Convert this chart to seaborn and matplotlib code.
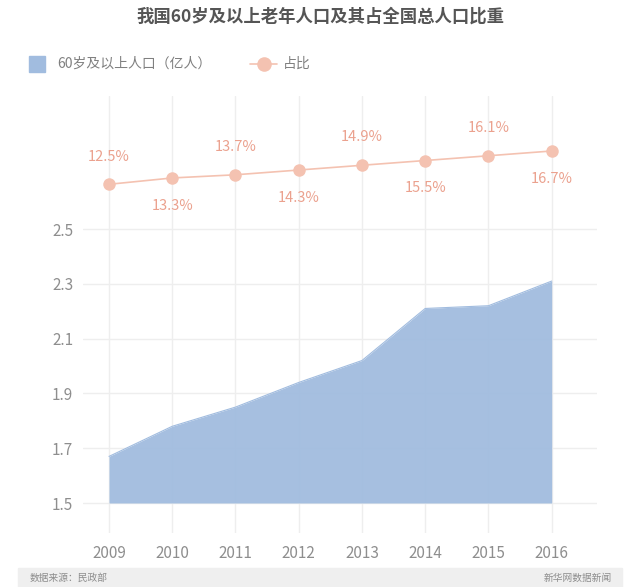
import numpy as np
import pandas as pd
import seaborn as sns
import matplotlib.pyplot as plt
from matplotlib.patches import Rectangle
from matplotlib.lines import Line2D

# data
years = [2009, 2010, 2011, 2012, 2013, 2014, 2015, 2016]
population = [1.67, 1.78, 1.85, 1.94, 2.02, 2.21, 2.22, 2.31]   # 亿人
share = [12.5, 13.3, 13.7, 14.3, 14.9, 15.5, 16.1, 16.7]          # %
y_ticks = [1.5, 1.7, 1.9, 2.1, 2.3, 2.5]

title = "我国60岁及以上老年人口及其占全国总人口比重"
legend_area = "60岁及以上人口（亿人）"
legend_line = "占比"
source = "数据来源：民政部"
brand = "新华网数据新闻"

blue = "#a1bcdf"
salmon = "#f4c2b1"
salmon_text = "#eba18e"
grey_text = "#8e8e8e"
grid_col = "#eeeeee"

df = pd.DataFrame({"year": years, "population": population, "share": share})

sns.set_theme(style="white")
plt.rcParams["font.family"] = ["Noto Sans CJK SC", "DejaVu Sans"]

W, H = 640, 587
fig = plt.figure(figsize=(W / 100, H / 100), dpi=100)

# axes box in pixels: x 83..597, y 96..533
left, right, top, bottom = 83, 597, 96, 533
ax = fig.add_axes([left / W, 1 - bottom / H, (right - left) / W, (bottom - top) / H])

# area
ax.fill_between(df["year"], 1.5, df["population"], color=blue, alpha=0.95,
                linewidth=0, zorder=2)
sns.lineplot(data=df, x="year", y="population", ax=ax, color=blue,
             linewidth=0.8, zorder=2)

px_year = (551.7 - 109) / 7
ax.set_xlim(2009 - (109 - left) / px_year, 2016 + (right - 551.7) / px_year)
px_unit = (503 - 229) / 1.0
ax.set_ylim(1.5 - (bottom - 503) / px_unit, 2.5 + (229 - top) / px_unit)

ax.set_xticks(years)
ax.set_yticks(y_ticks)
ax.set_yticklabels([f"{v:.1f}" for v in y_ticks])
ax.grid(True, color=grid_col, linewidth=1, zorder=0)
ax.set_axisbelow(True)
ax.tick_params(axis="x", length=0, pad=9, labelsize=11, labelcolor=grey_text)
ax.tick_params(axis="y", length=0, pad=7, labelsize=11, labelcolor=grey_text)
for lab in ax.get_xticklabels() + ax.get_yticklabels():
    lab.set_fontweight("light")
ax.set_xlabel("")
ax.set_ylabel("")
sns.despine(ax=ax, left=True, bottom=True)

# share line on a twin axis
ax2 = ax.twinx()
px_pct = (184.3 - 151) / (16.7 - 12.5)
ax2.set_ylim(12.5 - (bottom - 184.3) / px_pct, 12.5 + (184.3 - top) / px_pct)
sns.lineplot(data=df, x="year", y="share", ax=ax2, color=salmon, linewidth=1.2,
             marker="o", markersize=9, markeredgewidth=0, zorder=3)
ax2.set_yticks([])
ax2.set_ylabel("")
ax2.set_xlabel("")
sns.despine(ax=ax2, left=True, bottom=True, right=True)

for i, (yr, s) in enumerate(zip(years, share)):
    dy = 20 if i % 2 == 0 else -20
    ax2.annotate(f"{s}%", (yr, s), xytext=(0, dy), textcoords="offset points",
                 ha="center", va="center", fontsize=10.5, color=salmon_text,
                 fontweight="light")

# title
fig.text(0.5, 1 - 17 / H, title, ha="center", va="center", fontsize=12.5,
         fontweight="bold", color="#555555")

# legend
ly = 1 - 64 / H
fig.add_artist(Rectangle((29 / W, 1 - 72 / H), 16 / W, 16 / H,
                         transform=fig.transFigure, color=blue))
fig.text(57 / W, ly, legend_area, ha="left", va="center", fontsize=10,
         color="#808080", fontweight="light")
fig.add_artist(Line2D([250 / W, 277 / W], [ly, ly], transform=fig.transFigure,
                      color=salmon, linewidth=1.2))
fig.add_artist(Line2D([263.5 / W], [ly], transform=fig.transFigure, color=salmon,
                      marker="o", markersize=10.5, markeredgewidth=0))
fig.text(283 / W, ly, legend_line, ha="left", va="center", fontsize=10,
         color="#808080", fontweight="light")

# footer band
fig.add_artist(Rectangle((18 / W, 0), (622 - 18) / W, (587 - 568) / H,
                         transform=fig.transFigure, color="#efefef", zorder=0))
fig.text(30 / W, (587 - 578) / H, source, ha="left", va="center", fontsize=7,
         color="#8c8c8c")
fig.text(612 / W, (587 - 578) / H, brand, ha="right", va="center", fontsize=7,
         color="#8c8c8c")

fig.savefig("out.png", dpi=100)
